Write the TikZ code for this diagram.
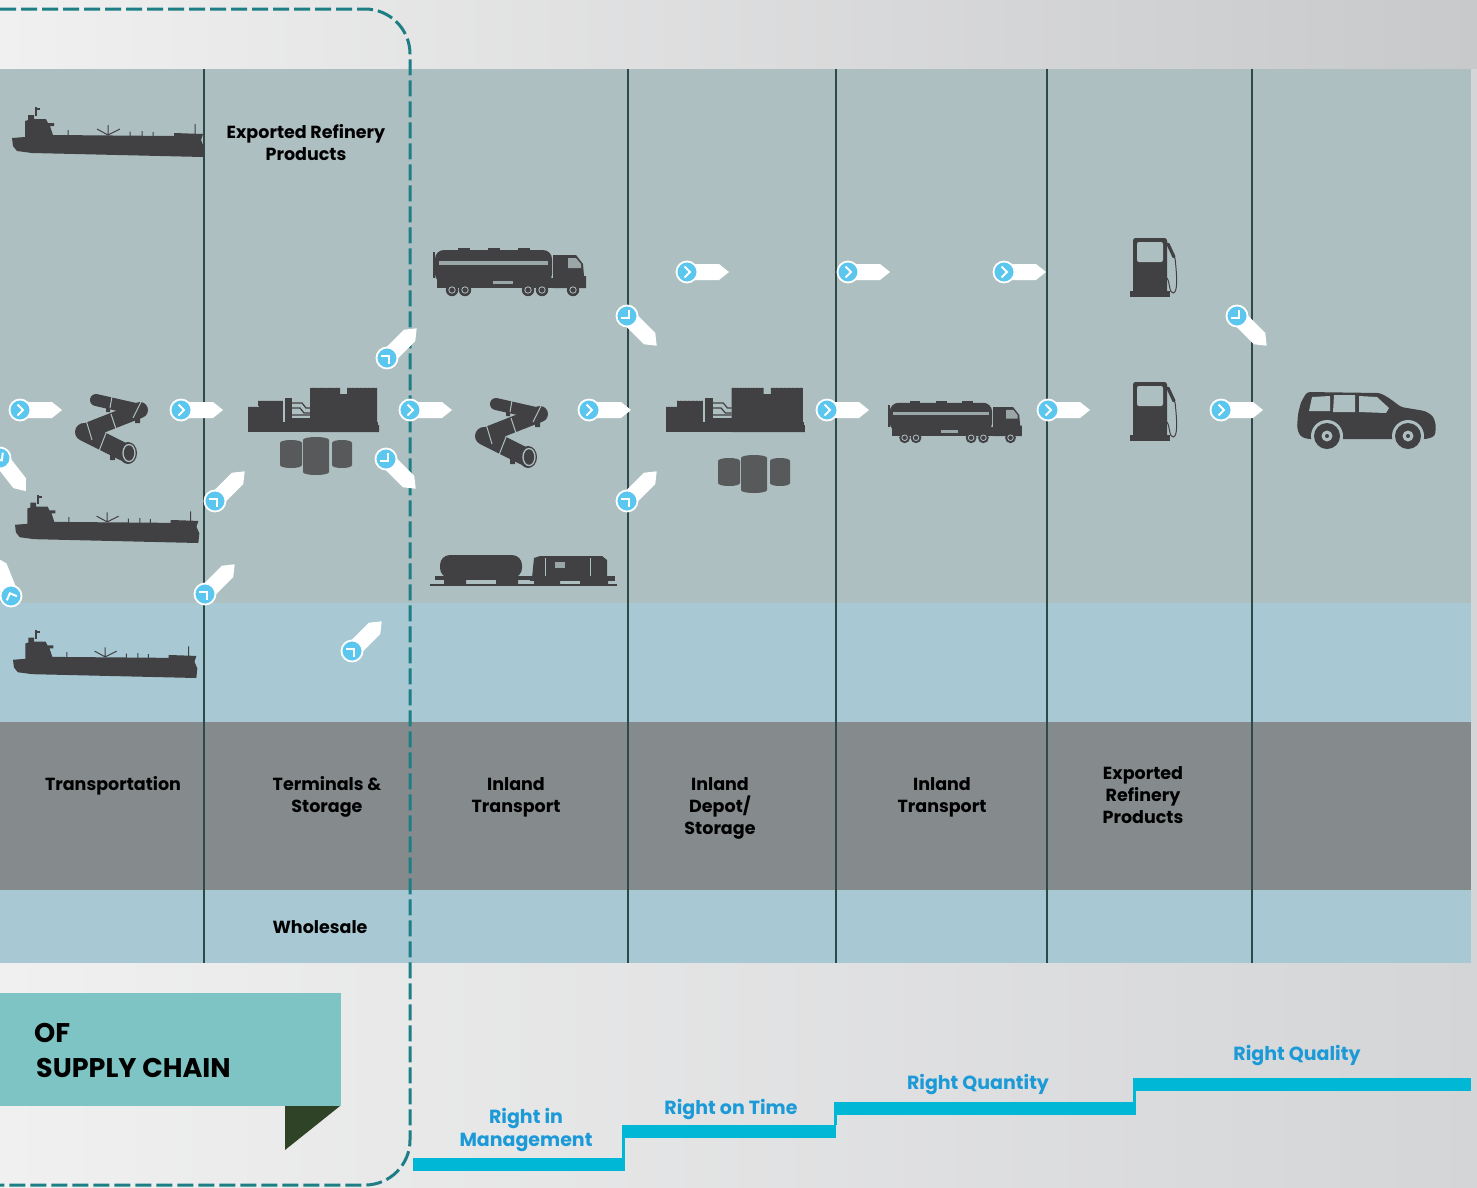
\documentclass[tikz,border=0pt]{standalone}
\usepackage{fontspec}
\setmainfont{Poppins}
\definecolor{bgL}{HTML}{F0F0F0}
\definecolor{bgR}{HTML}{C8C9CB}
\definecolor{bgRlow}{HTML}{D4D5D7}
\definecolor{panel}{HTML}{AEBFC1}
\definecolor{band}{HTML}{A8C9D3}
\definecolor{greyband}{HTML}{858B8D}
\definecolor{divcol}{HTML}{2E4A48}
\definecolor{icongray}{HTML}{414042}
\definecolor{tankgray}{HTML}{58595B}
\definecolor{stripe}{HTML}{9AA6A8}
\definecolor{teal}{HTML}{1D7F85}
\definecolor{bannerteal}{HTML}{7EC4C4}
\definecolor{flapgreen}{HTML}{2F4426}
\definecolor{stepcyan}{HTML}{00B8D6}
\definecolor{stepblue}{HTML}{1B9AD7}
\definecolor{tagblue}{HTML}{5BC6EE}
\newcommand\lblfont{\fontsize{17.5}{22}\selectfont\bfseries}
\newcommand\stepfont{\fontsize{19}{23}\selectfont\bfseries}
\newcommand\bannerfont{\fontsize{27}{35}\selectfont\bfseries}
\begin{document}
\begin{tikzpicture}[x=1pt,y=-1pt,
  icon/.style={fill=icongray},
  lbl/.style={font=\lblfont, text=black, align=center, inner sep=0},
  steplbl/.style={font=\stepfont, text=stepblue, align=center, inner sep=0},
  divider/.style={draw=divcol, line width=2},
  stepbar/.style={fill=stepcyan},
  dashbox/.style={draw=teal, line width=3, dash pattern=on 16 off 5, rounded corners=45},
  flowtag/.pic={
    \fill[white] (0,-8) -- (32,-8) -- (42,0) -- (32,8) -- (0,8) -- cycle;
    \fill[tagblue, draw=white, line width=1.8] (0,0) circle (10.5);
    \draw[white, line width=2, line join=miter] (-2.5,-5.5) -- (3,0) -- (-2.5,5.5);
  },
  ship/.pic={
    \fill[icongray] (0,31) -- (13,30) -- (13,14) -- (16,13) -- (16,8) -- (22,8) -- (22,12)
      -- (34,12) -- (36,16) -- (42,16) -- (42,19) -- (38,19) -- (41,28) -- (162,29)
      -- (162,26) -- (191,27) -- (189,33) -- (192,40) -- (191,50) -- (20,46) -- (5,44)
      -- (1,39) -- cycle;
    \fill[icongray] (23,0) rectangle (25,9);
    \fill[icongray] (25,1) rectangle (28,3);
    \draw[icongray, line width=1]
      (56,28.5) -- (56,23) (118,29) -- (118,24.5) (130,29) -- (130,24) (141,29.5) -- (141,25)
      (183,27) -- (183,17) (85,22) -- (96,28) -- (108,22) (96,28) -- (96,18);
  },
  pipeline/.pic={
    \draw[icongray, line width=12, line cap=round] (18,5) -- (62,15);
    \draw[icongray, line width=16, line cap=round, line join=round] (62,15) -- (6,37);
    \draw[icongray, line width=18, line cap=round, line join=round] (6,37) -- (46,57);
    \fill[icongray] (28,9) rectangle (32,17) (57,20) rectangle (62,28) (32,58) rectangle (37,65);
    \draw[panel, line width=1] (34,1.5) -- (32,13) (63,7) -- (55,23) (33,19) -- (38,34)
      (8,25) -- (14,45) (28,38) -- (21,56);
    \fill[icongray] (50,58) ellipse [x radius=9, y radius=11];
    \draw[panel, line width=1.3] (51,58) ellipse [x radius=6, y radius=8.5];
  },
  refinery/.pic={
    \fill[icongray] (0,22) rectangle (35,47);
    \fill[icongray] (10,16) rectangle (35,47);
    \fill[icongray] (37,13) rectangle (44,42);
    \fill[icongray] (0,37) rectangle (130,47);
    \fill[icongray] (44,33) rectangle (64,47);
    \fill[icongray] (62,3) -- (92,3) -- (92,9) -- (99,9) -- (99,3) -- (129,3) -- (129,40)
      -- (131,40) -- (131,47) -- (62,47) -- cycle;
    \draw[icongray, line width=1.2] (44,18) -- (54,18) -- (58,23) -- (62,23)
      (44,23) -- (52,23) -- (56,28) -- (62,28) (44,30) -- (62,30);
    \draw[stripe, line width=1.5, dash pattern=on 0.8 off 0.8] (10,15.5) -- (35,15.5)
      (62,2.5) -- (92,2.5) (99,2.5) -- (129,2.5) (0,21.5) -- (10,21.5);
  },
  tanks/.pic={
    \foreach \xa/\xb/\ya/\yb in {0/22/3/31, 23/49/0/38, 52/72/3/31}{
      \fill[tankgray] (\xa,\ya+3) .. controls (\xa,\ya-1) and (\xb,\ya-1) .. (\xb,\ya+3)
        -- (\xb,\yb-3) .. controls (\xb,\yb+1) and (\xa,\yb+1) .. (\xa,\yb-3) -- cycle;
    }
  },
  truck/.pic={
    \fill[icongray] (0,4) rectangle (2,30);
    \fill[icongray, rounded corners=9] (2,2) rectangle (119,35);
    \foreach \d in {25,55,85}{ \fill[icongray] (\d,0) rectangle (\d+12,3); }
    \fill[stripe] (6,13) rectangle (115,16.5);
    \fill[icongray] (4,30) rectangle (152,40);
    \fill[icongray] (120,7) -- (143,7) -- (150,16) -- (151,28) -- (153,28) -- (153,40) -- (120,40) -- cycle;
    \fill[stripe] (135,10) -- (143,10) -- (148,16) -- (148,20) -- (135,20) -- cycle;
    \fill[stripe] (60,33) rectangle (80,36);
    \foreach \w in {19,32,95,109,140}{
      \fill[icongray] (\w,42) circle (6.2);
      \draw[panel, line width=0.8] (\w,42) circle (3.2);
    }
  },
  train/.pic={
    \fill[icongray, rounded corners=10] (10,0) rectangle (92,23);
    \fill[icongray] (5,21) rectangle (100,25);
    \fill[icongray] (14,24) rectangle (36,29) (66,24) rectangle (88,29);
    \fill[icongray] (104,3) -- (110,1) -- (172,1) -- (177,5) -- (177,23) -- (102,23) -- cycle;
    \fill[stripe] (125,7) rectangle (135,13);
    \draw[panel, line width=0.7] (115,3) -- (115,22) (160,3) -- (160,22);
    \fill[icongray] (100,21) rectangle (185,26);
    \fill[icongray] (104,25) rectangle (130,29) (150,25) rectangle (178,29);
    \fill[icongray] (0,29) rectangle (187,31);
  },
  pump/.pic={
    \fill[icongray, rounded corners=2.5] (3,0) rectangle (37,56);
    \fill[icongray] (0,53) rectangle (40,59);
    \fill[panel, rounded corners=2] (7,4) rectangle (33,24);
    \draw[icongray, line width=3.2, line cap=round] (38,6) -- (44,19);
    \draw[icongray, line width=1] (45,20) .. controls (47,38) and (48,55) .. (43,55)
      .. controls (39,55) and (40,44) .. (37,40);
  },
  suv/.pic={
    \fill[icongray, rounded corners=3] (1,24) -- (4,12) -- (10,2) -- (83,3) -- (92,8) -- (104,17) -- (128,21)
      -- (136,26) -- (139,35) -- (138,46) -- (130,49) -- (10,49) -- (3,46) -- (0,38) -- cycle;
    \fill[panel] (15,7) -- (33,6) -- (33,21) -- (12,21) -- cycle;
    \fill[panel] (37,5) -- (58,5) -- (58,22) -- (36,22) -- cycle;
    \fill[panel] (62,6) -- (80,7) -- (92,18) -- (89,23) -- (62,22) -- cycle;
    \foreach \w in {30,111}{
      \fill[panel] (\w,46) circle (16);
      \fill[icongray] (\w,46) circle (13);
      \fill[panel] (\w,46) circle (5.5);
      \fill[icongray] (\w,46) circle (2);
    }
  }
]
\useasboundingbox (0,0) rectangle (1477,1187);
% backdrop
\shade[left color=bgL, right color=bgR] (0,0) rectangle (1477,70);
\shade[left color=bgL, right color=bgRlow] (0,69) rectangle (1477,1187);

% horizontal bands of the chart
\fill[panel] (0,69) rectangle (1471,603);
\fill[band] (0,603) rectangle (1471,722);
\fill[greyband] (0,722) rectangle (1471,890);
\fill[band] (0,890) rectangle (1471,963);

% column dividers
\foreach \x in {204,628,836,1047,1252}{ \draw[divider] (\x,69) -- (\x,963); }

% icons
\pic at (12,107) {ship};
\pic[scale=0.96] at (15,495) {ship};
\pic[scale=0.96] at (13,630) {ship};
\pic at (78,395) {pipeline};
\pic at (478,399) {pipeline};
\pic at (248,385) {refinery};
\pic at (280,437) {tanks};
\pic[xscale=1.06] at (666,385) {refinery};
\pic at (718,455) {tanks};
\pic at (433,248) {truck};
\pic[scale=0.875] at (888,401) {truck};
\pic at (430,555) {train};
\pic at (1130,238) {pump};
\pic at (1130,382) {pump};
\pic at (1297,390) {suv};

% column labels
\node[lbl] (exp1) at (306,143) {Exported Refinery\\Products};
\node[lbl] (c1) at (113,786) {Transportation};
\node[lbl] (c2) at (327,797) {Terminals \&\\Storage};
\node[lbl] (c3) at (516,797) {Inland\\Transport};
\node[lbl] (c4) at (720,808) {Inland\\Depot/\\Storage};
\node[lbl] (c5) at (942,797) {Inland\\Transport};
\node[lbl] (c6) at (1143,795) {Exported\\Refinery\\Products};
\node[lbl] (ws) at (320,927) {Wholesale};

% dashed frame around the first stages
\draw[dashbox] (0,9) -- (410,9) -- (410,1185) -- (0,1185);

% flow tags
\foreach \x/\y in {20/410,181/410,410/410,589/410,827/410,1048/410,1221/410,687/272,848/272,1004/272}{
  \pic at (\x,\y) {flowtag};
}
\foreach \x/\y in {387/358,215/501,205/594,627/501,352/651}{
  \pic[rotate=45] at (\x,\y) {flowtag};
}
\foreach \x/\y in {386/459,627/316,1237/316}{
  \pic[rotate=-45] at (\x,\y) {flowtag};
}
\pic[rotate=-52] at (0,458) {flowtag};
\pic[rotate=112] at (11,596) {flowtag};

% banner
\fill[bannerteal] (0,993) rectangle (341,1106);
\fill[flapgreen] (285,1106) -- (340,1106) -- (285,1150) -- cycle;
\node[font=\bannerfont, anchor=west, inner sep=0] (b1) at (34,1033) {OF};
\node[font=\bannerfont, anchor=west, inner sep=0] (b2) at (36,1068) {SUPPLY CHAIN};

% staircase of service levels
\fill[stepbar] (413,1158) rectangle (625,1171);
\fill[stepbar] (622,1138) rectangle (625,1158);
\fill[stepbar] (622,1125) rectangle (836,1138);
\fill[stepbar] (834,1115) rectangle (837,1125);
\fill[stepbar] (834,1102) rectangle (1136,1115);
\fill[stepbar] (1133,1091) rectangle (1136,1102);
\fill[stepbar] (1133,1078) rectangle (1471,1091);

\node[steplbl] (s1) at (526,1130) {Right in\\Management};
\node[steplbl] (s2) at (731,1109) {Right on Time};
\node[steplbl] (s3) at (978,1084) {Right Quantity};
\node[steplbl] (s4) at (1297,1055) {Right Quality};
\end{tikzpicture}
\end{document}
